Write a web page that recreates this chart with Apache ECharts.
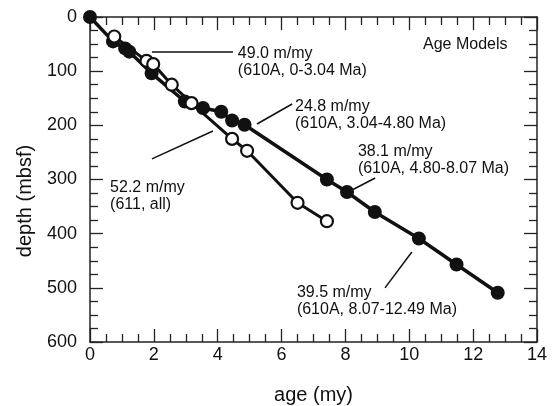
<!DOCTYPE html>
<html>
<head>
<meta charset="utf-8">
<script src="https://cdn.jsdelivr.net/npm/echarts@6/dist/echarts.min.js"></script>
<style>
  html, body { margin: 0; padding: 0; background: #fff; }
  #chart { width: 555px; height: 406px; }
</style>
</head>
<body>
<div id="chart"></div>
<script>
// Site 610A (filled) and Site 611 (open) age-depth tie points
const age610A = [0, 0.72, 1.10, 1.23, 1.93, 2.97, 3.54, 4.11, 4.45, 4.84, 7.42, 8.05, 8.92, 10.30, 11.48, 12.77];
const depth610A = [0, 45, 58, 64, 104, 156, 168, 175, 191, 199, 300, 323, 360, 409, 457, 509];
const age611 = [0.76, 1.77, 1.98, 2.56, 3.18, 4.45, 4.92, 6.50, 7.42];
const depth611 = [36, 81, 87, 125, 159, 225, 247, 343, 377];

const ageRange = [0, 14];
const depthRange = [0, 600];

// annotation text and leader lines (data units: age, depth)
const noteTexts = [
  '49.0 m/my\n(610A, 0-3.04 Ma)',
  '24.8 m/my\n(610A, 3.04-4.80 Ma)',
  '38.1 m/my\n(610A, 4.80-8.07 Ma)',
  '52.2 m/my\n(611, all)',
  '39.5 m/my\n(610A, 8.07-12.49 Ma)',
];
const noteAnchors = [[4.63, 51], [6.42, 150], [8.39, 233], [0.63, 299], [6.48, 493]];
const leaders = [
  [[1.94, 64.6], [4.48, 64.6]],
  [[5.23, 197.5], [6.33, 160.6]],
  [[8.21, 319.4], [8.93, 297.2]],
  [[1.94, 262], [3.85, 210.4]],
  [[9.24, 500], [10.08, 433.8]],
];

const FONT = "'Liberation Sans', Arial, Helvetica, sans-serif";
const INK = '#111';

const pair = (xs, ys) => xs.map((x, i) => [x, ys[i]]);

// onZero off, otherwise every axis line snaps to the zero of the other axis
const axisCommon = {
  axisLine: { onZero: false, lineStyle: { color: '#222', width: 1.5 } },
  axisTick: { show: true, inside: true, length: 13, lineStyle: { color: '#222', width: 1.3 } },
  minorTick: { show: true, splitNumber: 4, length: 8, lineStyle: { color: '#222', width: 1.3 } },
  splitLine: { show: false },
};

const chart = echarts.init(document.getElementById('chart'), null, { renderer: 'canvas' });

const option = {
  animation: false,
  backgroundColor: '#fff',
  grid: { left: 90, right: 18, top: 17, bottom: 64, outerBoundsMode: 'none' },
  xAxis: [
    {
      ...axisCommon,
      type: 'value',
      position: 'bottom',
      min: ageRange[0],
      max: ageRange[1],
      interval: 2,
      name: 'age (my)',
      nameLocation: 'middle',
      nameGap: 43,
      nameTextStyle: { fontFamily: FONT, fontSize: 20, color: INK },
      axisLabel: { fontFamily: FONT, fontSize: 18, color: INK, margin: 4 },
    },
    {
      ...axisCommon,
      type: 'value',
      position: 'top',
      min: ageRange[0],
      max: ageRange[1],
      interval: 2,
      axisLabel: { show: false },
    },
  ],
  yAxis: [
    {
      ...axisCommon,
      type: 'value',
      position: 'left',
      inverse: true,
      min: depthRange[0],
      max: depthRange[1],
      interval: 100,
      axisLabel: { fontFamily: FONT, fontSize: 18, color: INK, margin: 13 },
    },
    {
      ...axisCommon,
      type: 'value',
      position: 'right',
      inverse: true,
      min: depthRange[0],
      max: depthRange[1],
      interval: 100,
      axisLabel: { show: false },
    },
  ],
  series: [
    {
      name: '610A',
      type: 'line',
      data: pair(age610A, depth610A),
      symbol: 'circle',
      symbolSize: 14,
      lineStyle: { color: INK, width: 3.5 },
      itemStyle: { color: INK, borderColor: INK, borderWidth: 0 },
      z: 2,
    },
    {
      name: '611',
      type: 'line',
      data: pair(age611, depth611),
      symbol: 'circle',
      symbolSize: 12,
      lineStyle: { color: INK, width: 3 },
      itemStyle: { color: '#fff', borderColor: INK, borderWidth: 2.2 },
      z: 3,
    },
  ],
};

chart.setOption(option);

// place annotations using the chart's own coordinate conversion
const toPx = (p) => chart.convertToPixel({ gridIndex: 0 }, p);
const graphics = [];
leaders.forEach((seg) => {
  const a = toPx(seg[0]);
  const b = toPx(seg[1]);
  graphics.push({
    type: 'line',
    shape: { x1: a[0], y1: a[1], x2: b[0], y2: b[1] },
    style: { stroke: INK, lineWidth: 1.5 },
    z: 10,
  });
});
noteTexts.forEach((t, i) => {
  const p = toPx(noteAnchors[i]);
  graphics.push({
    type: 'text',
    x: p[0],
    y: p[1],
    style: { text: t, fontFamily: FONT, fontSize: 16, lineHeight: 17, fill: INK, align: 'left', verticalAlign: 'top' },
    z: 10,
  });
});
const am = toPx([10.43, 37]);
graphics.push({
  type: 'text',
  x: am[0],
  y: am[1],
  style: { text: 'Age Models', fontFamily: FONT, fontSize: 16, fill: INK, align: 'left', verticalAlign: 'top' },
  z: 10,
});
// y axis title, sits a bit below the plot centre in the original
graphics.push({
  type: 'text',
  x: 25,
  y: 201,
  rotation: Math.PI / 2,
  style: { text: 'depth (mbsf)', fontFamily: FONT, fontSize: 20, fill: INK, align: 'center', verticalAlign: 'middle' },
  z: 10,
});
chart.setOption({ graphic: graphics });
</script>
</body>
</html>
